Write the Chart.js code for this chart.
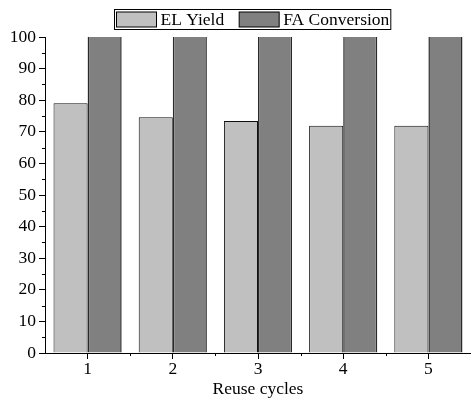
<!DOCTYPE html>
<html>
<head>
<meta charset="utf-8">
<script src="https://cdn.jsdelivr.net/npm/chart.js@4/dist/chart.umd.min.js"></script>
<style>
  html, body { margin: 0; padding: 0; background: #fff; }
  #wrap { width: 471px; height: 398px; }
</style>
</head>
<body>
<div id="wrap"><canvas id="chart" width="471" height="398"></canvas></div>
<script>
// Reuse cycles on the x axis
const cycles = ['1', '2', '3', '4', '5'];
// EL yield (%) per cycle
const elYield = [79.0, 74.6, 73.4, 71.9, 71.9];
// FA conversion (%) per cycle
const faConversion = [100, 100, 100, 100, 100];
// Y-axis range and step
const yMin = 0, yMax = 100, yStep = 10;

const FONT = "'Liberation Serif', 'Times New Roman', serif";
const FONT_SIZE = 17.5;

// Minor ticks on both axes plus a framed legend at the top
const decorations = {
  id: 'decorations',
  afterDraw(chart) {
    const ctx = chart.ctx;
    const x = chart.scales.x, y = chart.scales.y;
    const area = chart.chartArea;
    ctx.save();
    ctx.strokeStyle = '#000';
    ctx.lineWidth = 1;
    // y minor ticks half-way between labelled ticks
    for (let v = yMin + yStep / 2; v < yMax; v += yStep) {
      const py = Math.round(y.getPixelForValue(v)) + 0.5;
      ctx.beginPath();
      ctx.moveTo(area.left - 3, py);
      ctx.lineTo(area.left, py);
      ctx.stroke();
    }
    // x minor ticks at category boundaries
    for (let i = 0; i < cycles.length - 1; i++) {
      const px = Math.round((x.getPixelForValue(i) + x.getPixelForValue(i + 1)) / 2) + 0.5;
      ctx.beginPath();
      ctx.moveTo(px, area.bottom);
      ctx.lineTo(px, area.bottom + 3);
      ctx.stroke();
    }

    // legend
    ctx.font = FONT_SIZE + 'px ' + FONT;
    ctx.textBaseline = 'middle';
    ctx.textAlign = 'left';
    const boxW = 40, boxH = 15, gapText = 4, gapItem = 15, pad = 2;
    const top = 9.5, h = 20;
    let cx = 114.5 + pad;
    const items = chart.data.datasets.map(ds => ({
      label: ds.label, fill: ds.backgroundColor, w: ctx.measureText(ds.label).width
    }));
    const startX = 114.5;
    items.forEach((it, i) => {
      ctx.fillStyle = it.fill;
      ctx.fillRect(cx, top + 2.5, boxW, boxH);
      ctx.strokeStyle = '#000';
      ctx.strokeRect(cx, top + 2.5, boxW, boxH);
      ctx.fillStyle = '#000';
      ctx.fillText(it.label, cx + boxW + gapText, top + h / 2 + 1);
      cx += boxW + gapText + it.w + (i < items.length - 1 ? gapItem : 0);
    });
    ctx.strokeStyle = '#000';
    ctx.strokeRect(startX, top, cx + 1.5 - startX, h);
    ctx.restore();
  }
};

new Chart(document.getElementById('chart'), {
  type: 'bar',
  data: {
    labels: cycles,
    datasets: [
      {
        label: 'EL Yield',
        data: elYield,
        backgroundColor: '#c0c0c0',
        borderColor: '#111',
        borderWidth: 1,
        borderSkipped: 'start'
      },
      {
        label: 'FA Conversion',
        data: faConversion,
        backgroundColor: '#808080',
        borderColor: '#2a2a2a',
        borderWidth: { left: 1.5, right: 1.5, top: 0, bottom: 0 },
        borderSkipped: 'start'
      }
    ]
  },
  options: {
    responsive: false,
    animation: false,
    events: [],
    categoryPercentage: 0.8,
    barPercentage: 1.0,
    layout: { padding: { top: 37, right: 0, bottom: 0, left: 0 } },
    plugins: {
      legend: { display: false },
      tooltip: { enabled: false }
    },
    scales: {
      x: {
        offset: true,
        grid: { offset: false, drawOnChartArea: false, drawTicks: true, tickLength: 6, tickColor: '#000', lineWidth: 1 },
        border: { color: '#000', width: 1 },
        ticks: { color: '#000', padding: 0, font: { family: FONT, size: FONT_SIZE } },
        title: {
          display: true,
          text: 'Reuse cycles',
          color: '#000',
          padding: { top: 0, bottom: 0 },
          font: { family: FONT, size: FONT_SIZE, lineHeight: 1.0 }
        },
        afterFit(scale) { scale.height = 45; }
      },
      y: {
        min: yMin,
        max: yMax,
        grid: { drawOnChartArea: false, drawTicks: true, tickLength: 6, tickColor: '#000', lineWidth: 1 },
        border: { color: '#000', width: 1 },
        ticks: { stepSize: yStep, color: '#000', padding: 3, font: { family: FONT, size: FONT_SIZE } },
        afterFit(scale) { scale.width = 45; }
      }
    }
  },
  plugins: [decorations]
});
</script>
</body>
</html>
